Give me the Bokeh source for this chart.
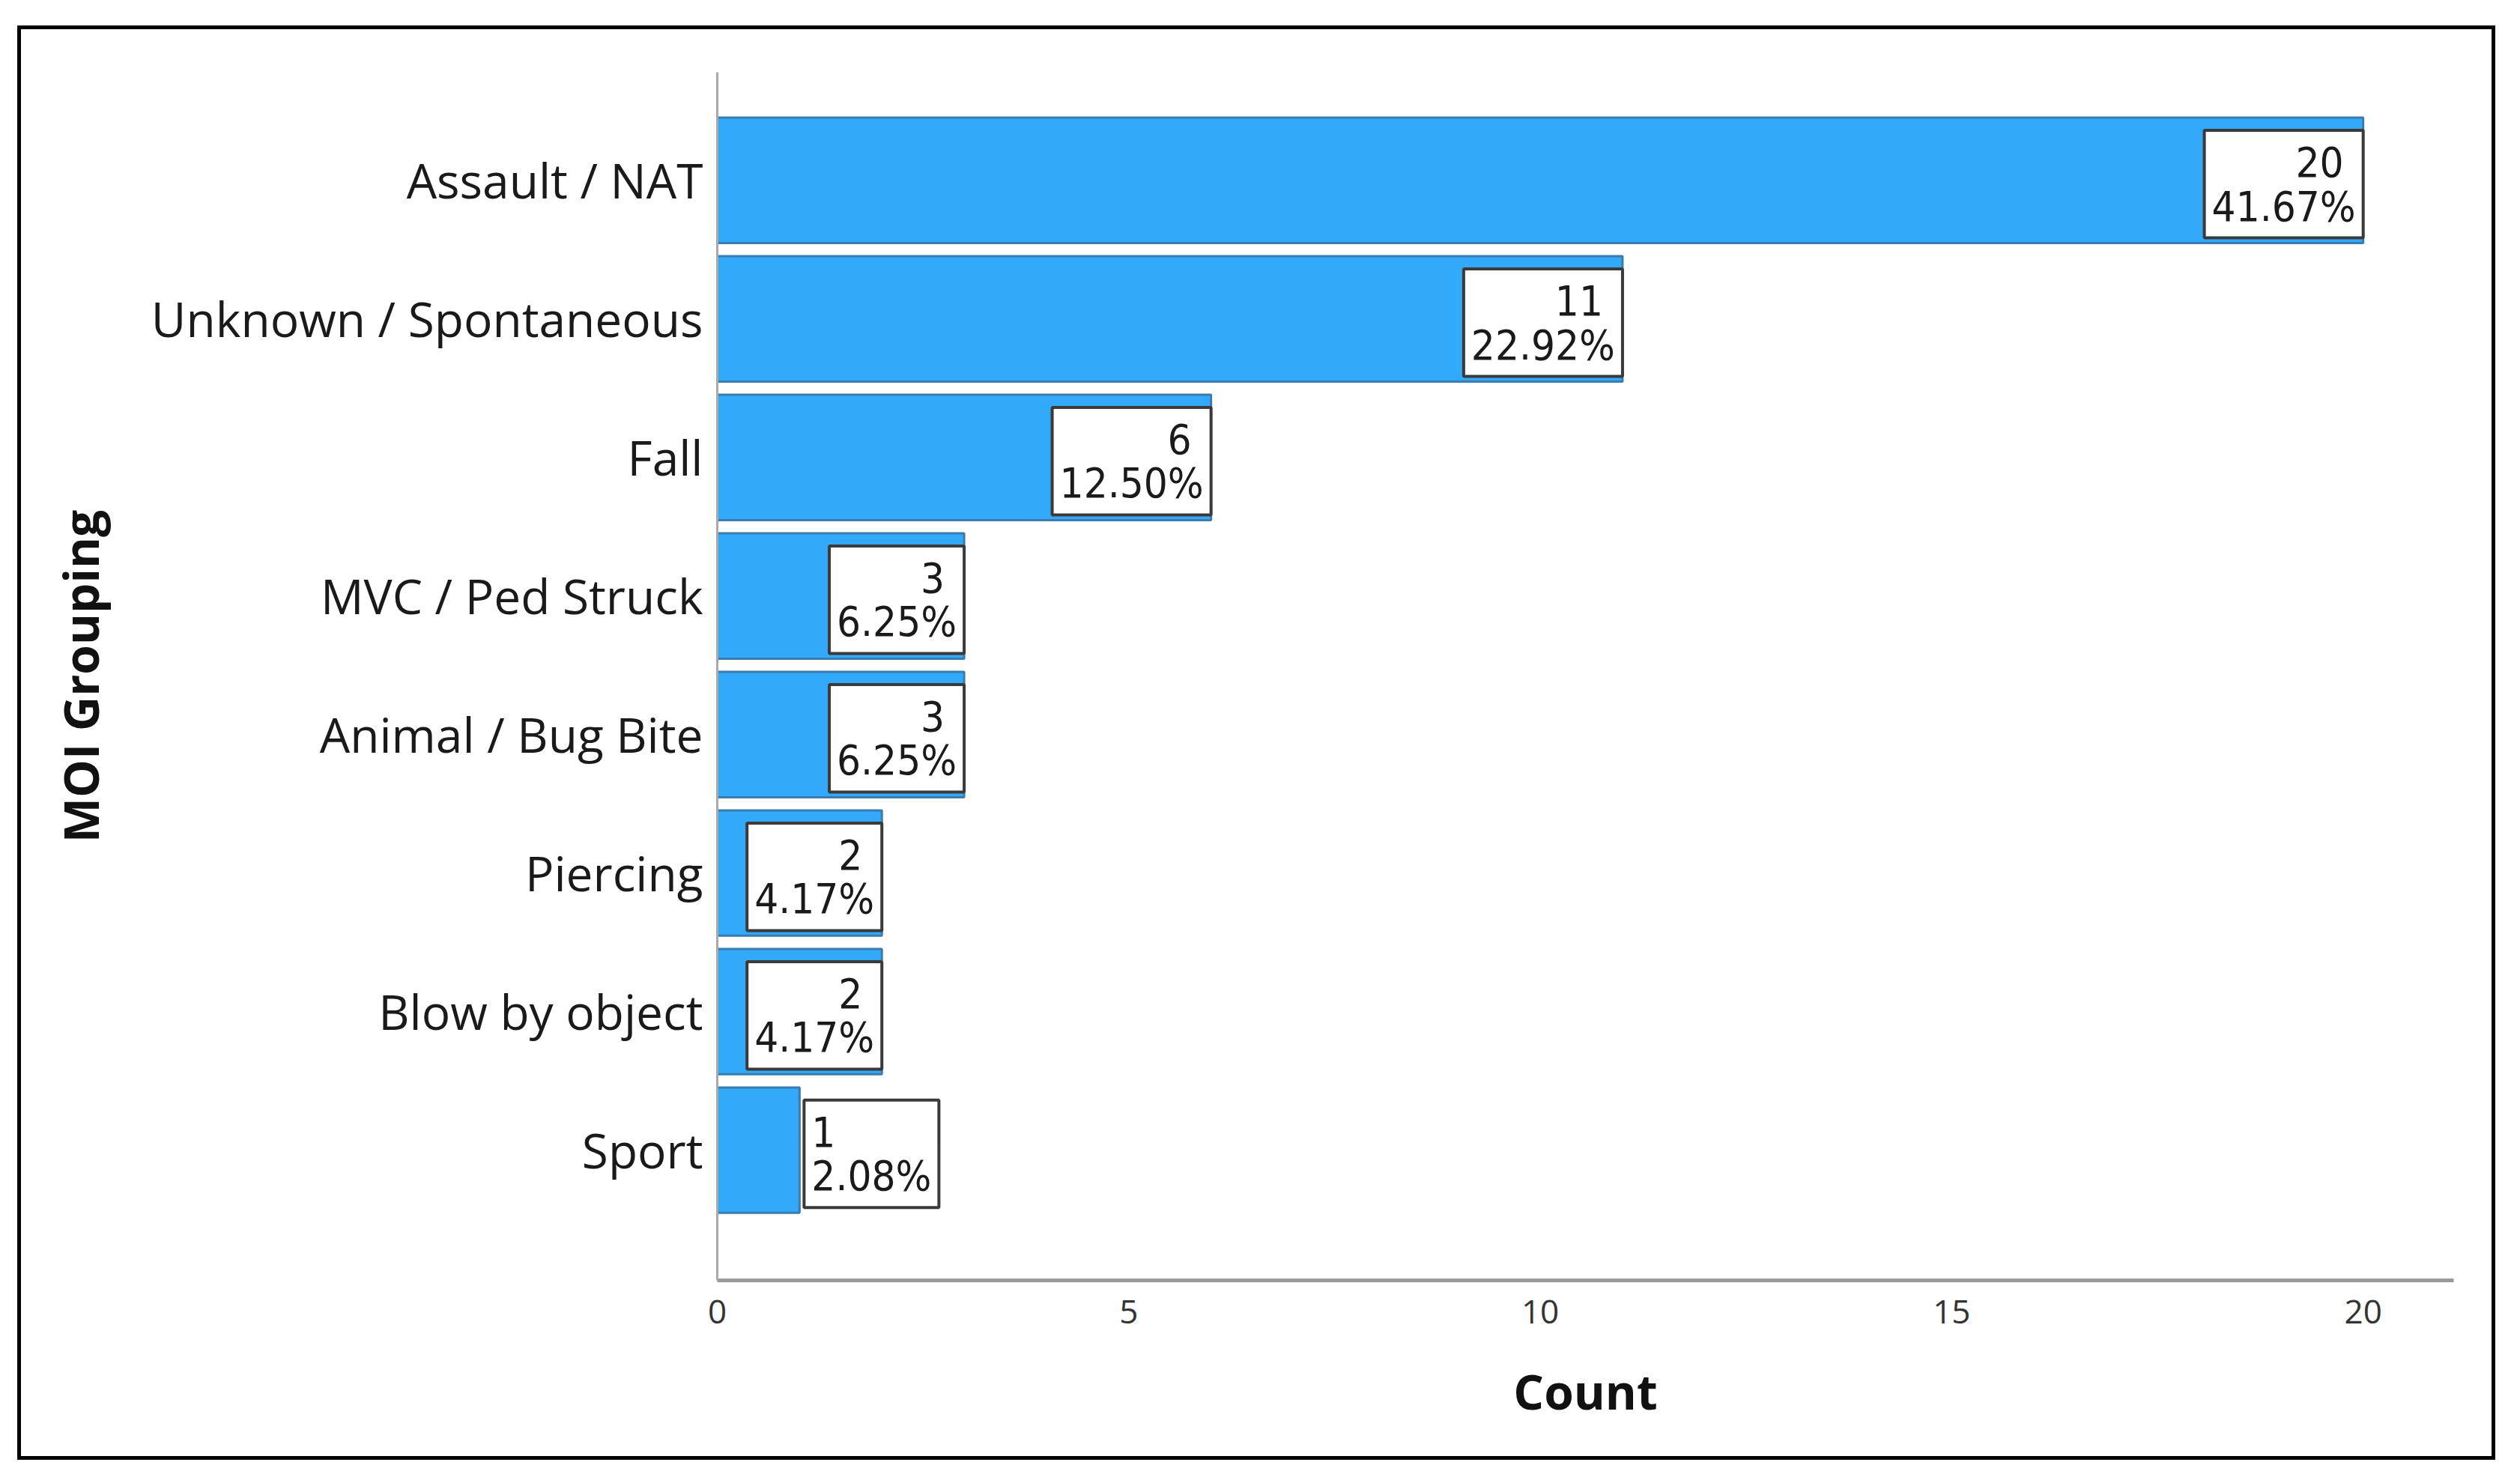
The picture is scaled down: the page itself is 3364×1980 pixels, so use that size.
from bokeh.plotting import figure
from bokeh.models import ColumnDataSource, Range1d, FixedTicker
from bokeh.core.properties import value
from bokeh.embed import file_html
from bokeh.resources import INLINE

# ---- data ----
categories = ["Assault / NAT", "Unknown / Spontaneous", "Fall", "MVC / Ped Struck",
              "Animal / Bug Bite", "Piercing", "Blow by object", "Sport"]
counts = [20, 11, 6, 3, 3, 2, 2, 1]
percents = ["41.67", "22.92", "12.50", "6.25", "6.25", "4.17", "4.17", "2.08"]
x_ticks = [0, 5, 10, 15, 20]
x_title = "Count"
y_title = "MOI Grouping"

idx = list(range(len(categories)))

W, H = 3308, 1915
p = figure(width=W, height=H, output_backend="svg", toolbar_location=None,
           x_range=Range1d(0, 21.1), y_range=Range1d(7.94, -0.78),
           min_border_left=929, min_border_right=61, min_border_top=57,
           min_border_bottom=245)
p.styles = {"border": "5px solid black", "margin-left": "23px", "margin-top": "34px"}
p.background_fill_color = "white"
p.border_fill_color = "white"
p.outline_line_color = None
p.xgrid.visible = False
p.ygrid.visible = False

bars = ColumnDataSource(dict(y=idx, right=counts))
p.hbar(y="y", left=0, right="right", height=0.905, source=bars,
       fill_color="#33aaf9", line_color="#3a7bb0", line_width=3)

# labels: inside the bar end if it fits, else outside
box_w_units = 1.7
ins = dict(x=[], y=[], t=[])
outs = dict(x=[], y=[], t=[])
for i, (c, pc) in enumerate(zip(counts, percents)):
    if c > box_w_units:
        ins["x"].append(c); ins["y"].append(i); ins["t"].append(f"{c}\u00a0\n{pc}%")
    else:
        outs["x"].append(c); outs["y"].append(i); outs["t"].append(f"{c}\n{pc}%")

common = dict(text_font=value("DejaVu Sans Condensed"), text_font_size="56px",
              text_color="#1a1a1a", text_baseline="middle", text_line_height=0.9,
              background_fill_color="white", border_line_color="#3a3a3a",
              border_line_width=4, padding=10)
p.text(x="x", y="y", text="t", source=ColumnDataSource(ins), text_align="right",
       x_offset=0, y_offset=5, **common)
p.text(x="x", y="y", text="t", source=ColumnDataSource(outs), text_align="left",
       x_offset=6, y_offset=5, **common)

# x axis
xa = p.xaxis[0]
xa.ticker = FixedTicker(ticks=x_ticks)
xa.axis_label = x_title
xa.axis_label_text_font = "Open Sans"
xa.axis_label_text_font_style = "bold"
xa.axis_label_text_font_size = "64px"
xa.axis_label_text_color = "#111111"
xa.axis_label_standoff = 44
xa.major_label_text_font = "Open Sans"
xa.major_label_text_font_size = "44px"
xa.major_label_text_color = "#333333"
xa.major_label_standoff = 20
xa.major_tick_line_color = None
xa.minor_tick_line_color = None
xa.axis_line_color = "#9a9a9a"
xa.axis_line_width = 5

# y axis
ya = p.yaxis[0]
ya.ticker = FixedTicker(ticks=idx)
ya.major_label_overrides = {i: c for i, c in zip(idx, categories)}
ya.axis_label = y_title
ya.axis_label_text_font = "Open Sans"
ya.axis_label_text_font_style = "bold"
ya.axis_label_text_font_size = "64px"
ya.axis_label_text_color = "#111111"
ya.axis_label_standoff = 48
ya.major_label_text_font = "Open Sans"
ya.major_label_text_font_size = "64px"
ya.major_label_text_color = "#1a1a1a"
ya.major_label_standoff = 13
ya.major_tick_line_color = None
ya.minor_tick_line_color = None
ya.axis_line_color = "#aaaaaa"
ya.axis_line_width = 3

open("out.html", "w").write(file_html(p, INLINE))
